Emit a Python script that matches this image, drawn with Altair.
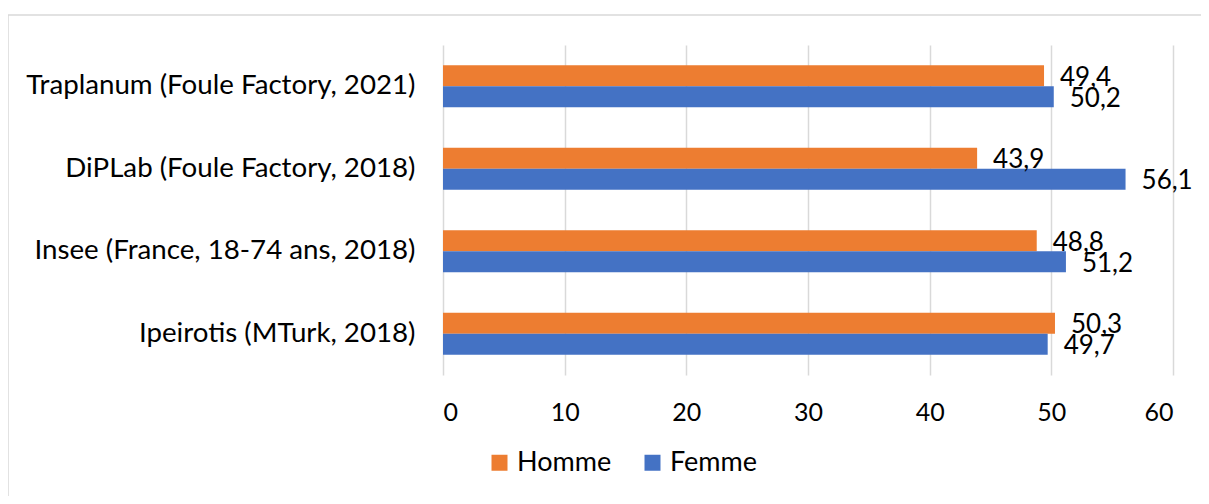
import altair as alt
import pandas as pd

categories = [
    "Traplanum (Foule Factory, 2021)",
    "DiPLab (Foule Factory, 2018)",
    "Insee (France, 18-74 ans, 2018)",
    "Ipeirotis (MTurk, 2018)",
]
homme = [49.4, 43.9, 48.8, 50.3]
femme = [50.2, 56.1, 51.2, 49.7]
series = ["Homme", "Femme"]
colors = ["#ED7D31", "#4472C4"]
x_ticks = [0, 10, 20, 30, 40, 50, 60]

rows = []
for c, h, f in zip(categories, homme, femme):
    rows.append({"cat": c, "sexe": "Homme", "val": h})
    rows.append({"cat": c, "sexe": "Femme", "val": f})
df = pd.DataFrame(rows)
df["label"] = df["val"].map(lambda v: f"{v:.1f}".replace(".", ","))

FONT = "Lato"

y_enc = alt.Y("cat:N", sort=categories, title=None,
              scale=alt.Scale(paddingInner=0.49, paddingOuter=0.245),
              axis=alt.Axis(domain=False, ticks=False, labelFontSize=27.7,
                            labelFont=FONT, labelColor="#000000", labelPadding=28,
                            labelLimit=600, grid=False))
yoff = alt.YOffset("sexe:N", sort=series, scale=alt.Scale(paddingInner=0, paddingOuter=0))
x_enc = alt.X("val:Q", title=None,
              scale=alt.Scale(domain=[0, 60], nice=False),
              axis=alt.Axis(values=x_ticks, domain=False, ticks=False,
                            labelFontSize=25, labelFont=FONT, labelColor="#000000",
                            labelPadding=25, grid=True, gridColor="#d9d9d9",
                            gridWidth=1.5))

frame = alt.Chart(pd.DataFrame({"f": [0]})).mark_rect(
    fill=None, stroke="#d9d9d9", strokeWidth=1.5
).encode(x=alt.value(-435), x2=alt.value(800), y=alt.value(-30), y2=alt.value(480))

bars = alt.Chart(df).mark_bar().encode(
    y=y_enc, yOffset=yoff, x=x_enc,
    color=alt.Color("sexe:N", sort=series,
                    scale=alt.Scale(domain=series, range=colors),
                    legend=alt.Legend(title=None, orient="none", direction="horizontal",
                                      legendX=43, legendY=404, symbolType="square",
                                      symbolSize=256, symbolStrokeWidth=0,
                                      labelFontSize=27, labelFont=FONT,
                                      labelColor="#000000", columnPadding=27,
                                      labelOffset=4)),
)

texts = alt.Chart(df).mark_text(align="left", baseline="middle", dx=16, dy=2,
                                fontSize=26, font=FONT, color="#000000").encode(
    y=alt.Y("cat:N", sort=categories), yOffset=yoff,
    x="val:Q", text="label:N",
)

chart = (frame + bars + texts).properties(
    width=730, height=330,
    autosize=alt.AutoSizeParams(type="none"),
    padding={"left": 435, "top": 37, "right": 28, "bottom": 121},
).configure_view(stroke=None)

chart.save("out.html", embed_options={"renderer": "svg", "actions": False})
